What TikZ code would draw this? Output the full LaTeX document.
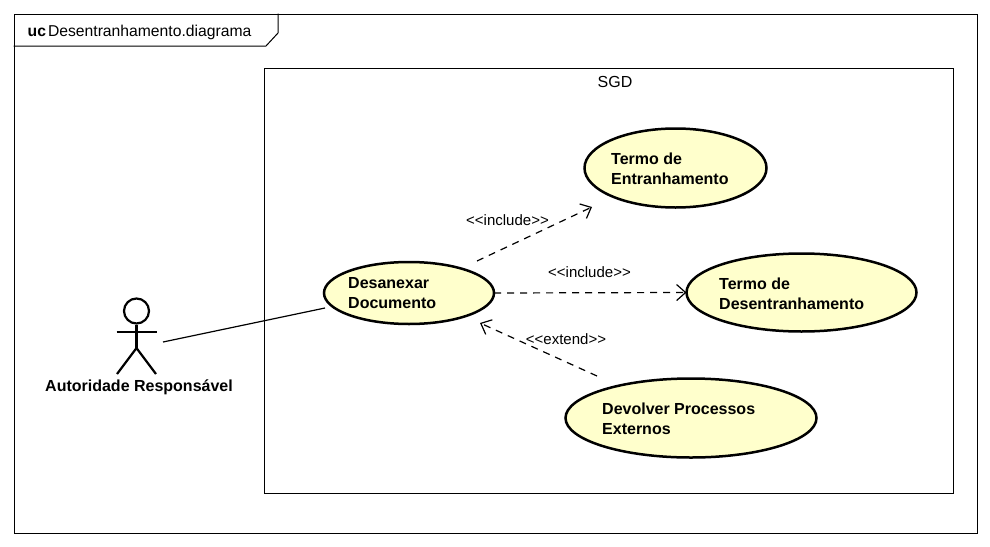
\documentclass[tikz,border=0pt]{standalone}
\usepackage{fontspec}
\setmainfont{Liberation Sans}[Ligatures=NoCommon]
\usetikzlibrary{shapes.geometric,arrows.meta}
\definecolor{ucfill}{RGB}{255,255,204}
\tikzset{
  frameline/.style={draw=black,line width=1pt},
  usecase/.style={ellipse,draw=black,line width=2.5pt,fill=ucfill,inner sep=0pt,outer sep=0pt},
  uclabel/.style={font=\fontsize{16}{20}\selectfont\bfseries,align=left,anchor=north west,inner sep=0pt},
  small/.style={font=\fontsize{15}{17}\selectfont,inner sep=0pt},
  actorline/.style={draw=black,line width=2.2pt},
  dep/.style={draw=black,line width=1.2pt,dash pattern=on 7pt off 6pt,-{Straight Barb[length=9pt,width=16pt,line width=1.2pt]}},
  assoc/.style={draw=black,line width=1.2pt}
}
\begin{document}
\begin{tikzpicture}[x=1pt,y=-1pt]
\useasboundingbox (0,0) rectangle (990,546);
\node[frameline,minimum width=963pt,minimum height=519pt,anchor=north west,inner sep=0pt] (frame) at (13.5,13.5) {};
\draw[frameline] (13.5,46) -- (266,46) -- (278,33) -- (278,13.5);
\node[anchor=base west,inner sep=0pt,font=\fontsize{15.7}{18}\selectfont] (title) at (27.5,36) {\textbf{uc}\kern2pt Desentranhamento.diagrama};
\node[frameline,minimum width=689pt,minimum height=425pt,anchor=north west,inner sep=0pt] (sgd) at (264,67.5) {};
\node[anchor=base,inner sep=0pt,font=\fontsize{16}{18}\selectfont] (sgdlabel) at (615,87.5) {SGD};
% actor
\node[circle,draw=black,line width=2.2pt,minimum size=25pt,inner sep=0pt] (head) at (136.5,311) {};
\coordinate (hip) at (136.5,348);
\coordinate (larm) at (116.5,332);
\coordinate (rarm) at (157,332);
\coordinate (lfoot) at (117,374);
\coordinate (rfoot) at (156,374);
\draw[actorline] (head.south) -- (hip);
\draw[actorline] (larm) -- (rarm);
\draw[actorline] (lfoot) -- (hip) -- (rfoot);
\node[anchor=base,inner sep=0pt,font=\fontsize{16}{18}\selectfont\bfseries] (actorname) at (139,391) {Autoridade Responsável};
% use cases
\node[usecase,minimum width=170pt,minimum height=62pt] (des) at (409,293) {};
\node[uclabel] (deslabel) at (348,277.5) {Desanexar\\Documento};
\node[usecase,minimum width=182pt,minimum height=79pt] (ent) at (675.5,168) {};
\node[uclabel] (entlabel) at (611,153) {Termo de\\Entranhamento};
\node[usecase,minimum width=230pt,minimum height=78pt] (dese) at (801.5,292.5) {};
\node[uclabel] (deselabel) at (719,278) {Termo de\\Desentranhamento};
\node[usecase,minimum width=251pt,minimum height=79pt] (dev) at (691,418) {};
\node[uclabel] (devlabel) at (602,403) {Devolver Processos\\Externos};
% connectors
\coordinate (actorhand) at (163,342);
\coordinate (deshand) at (325,308);
\coordinate (inc1s) at (477,261);
\coordinate (inc1e) at (592,207);
\coordinate (ext1s) at (597,376);
\coordinate (ext1e) at (480,323);
\draw[assoc] (actorhand) -- (deshand);
\draw[dep] (inc1s) -- (inc1e);
\draw[dep] (des.east) -- (dese.west);
\draw[dep] (ext1s) -- (ext1e);
\node[small,anchor=base] (l1) at (507.5,225) {{<}{<}include{>}{>}};
\node[small,anchor=base] (l2) at (589.5,277) {{<}{<}include{>}{>}};
\node[small,anchor=base] (l3) at (566,344) {{<}{<}extend{>}{>}};
\end{tikzpicture}
\end{document}
